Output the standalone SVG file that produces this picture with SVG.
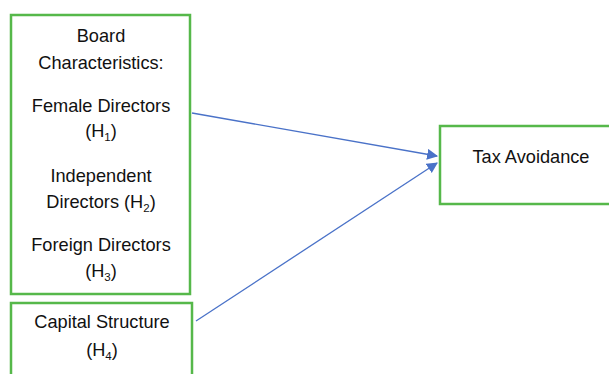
<svg xmlns="http://www.w3.org/2000/svg" width="609" height="374" viewBox="0 0 609 374">
<style>
.box{fill:#fff;stroke:#56b84a;stroke-width:2.5}
.t{font-family:"Liberation Sans",Arial,sans-serif;font-size:18.2px;fill:#111;text-anchor:middle}
.sub{font-size:11.5px}
.c{stroke:#4a72c8;stroke-width:1.3;fill:none}
</style>
<defs>
<marker id="ah" viewBox="0 0 10 10" refX="9" refY="5" markerWidth="11" markerHeight="11" markerUnits="userSpaceOnUse" orient="auto">
<path d="M0,0L10,5L0,10z" fill="#4a72c8"/>
</marker>
</defs>
<g id="board">
<rect class="box" x="11" y="15" width="179" height="279"/>
<text class="t" x="101" y="42">Board</text>
<text class="t" x="101" y="69">Characteristics:</text>
<text class="t" x="101" y="112">Female Directors</text>
<text class="t" x="101" y="137">(H<tspan class="sub" dy="4">1</tspan><tspan dy="-4">)</tspan></text>
<text class="t" x="101" y="182">Independent</text>
<text class="t" x="101" y="208">Directors (H<tspan class="sub" dy="4">2</tspan><tspan dy="-4">)</tspan></text>
<text class="t" x="101" y="251">Foreign Directors</text>
<text class="t" x="101" y="277">(H<tspan class="sub" dy="4">3</tspan><tspan dy="-4">)</tspan></text>
</g>
<g id="capital">
<rect class="box" x="11" y="303" width="181" height="80"/>
<text class="t" x="102" y="328">Capital Structure</text>
<text class="t" x="102" y="356">(H<tspan class="sub" dy="4">4</tspan><tspan dy="-4">)</tspan></text>
</g>
<g id="tax">
<rect class="box" x="440" y="126" width="180" height="78"/>
<text class="t" x="531" y="163">Tax Avoidance</text>
</g>
<g id="connectors">
<line class="c" x1="192" y1="113" x2="437" y2="156" marker-end="url(#ah)"/>
<line class="c" x1="196" y1="321" x2="437" y2="163" marker-end="url(#ah)"/>
</g>
</svg>
